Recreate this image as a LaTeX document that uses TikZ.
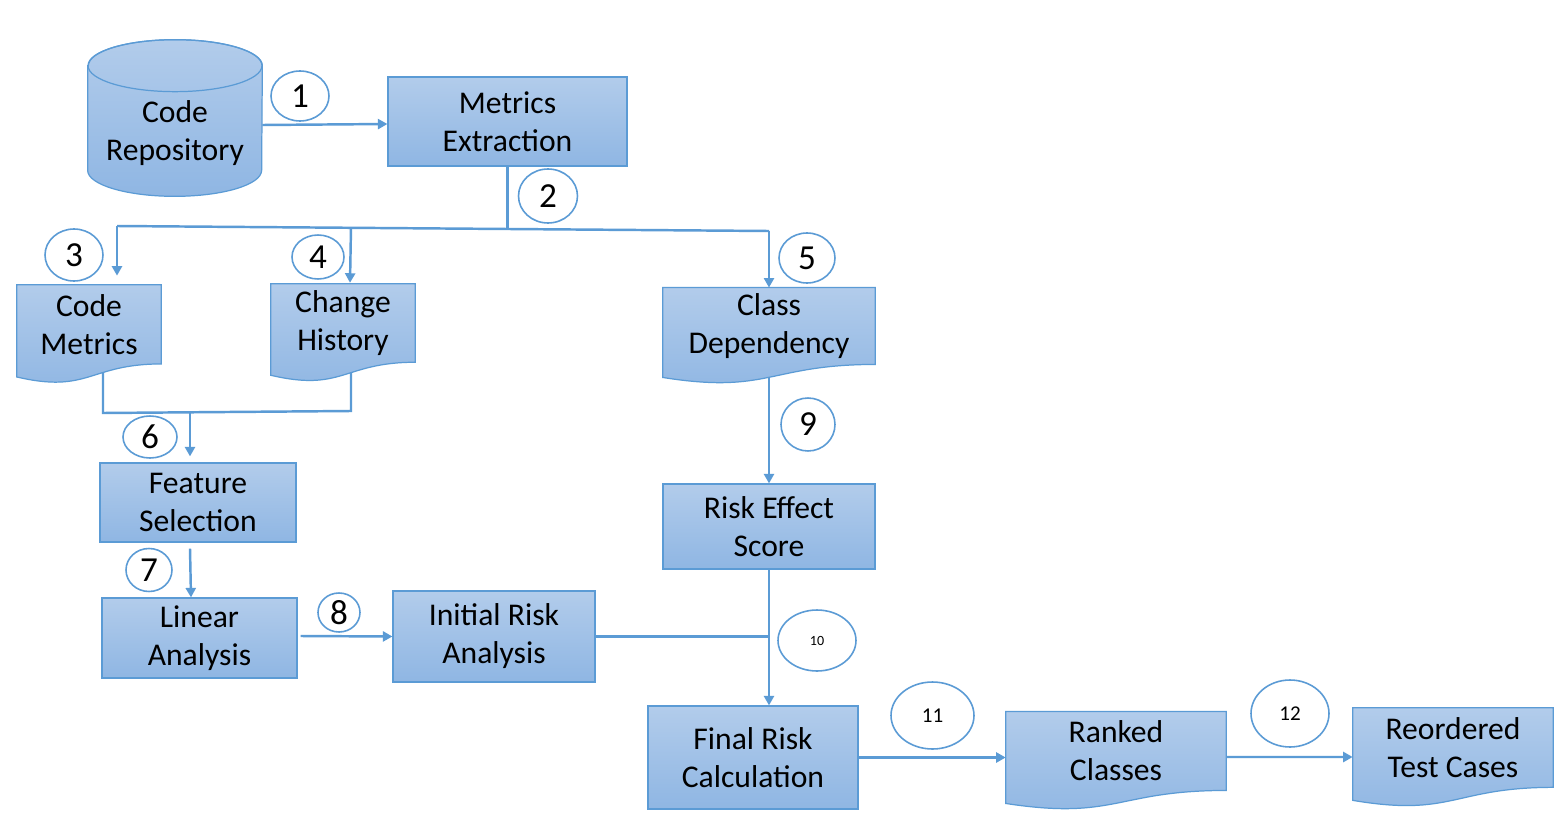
\documentclass[tikz,border=0pt]{standalone}
\usepackage{fontspec}
\setmainfont{Carlito}
\usetikzlibrary{arrows.meta,calc,shapes.geometric}
\pgfdeclarelayer{conn}
\pgfdeclarelayer{shapes}
\pgfsetlayers{conn,shapes,main}
\definecolor{bordc}{RGB}{91,155,213}
\definecolor{linec}{RGB}{91,155,213}
\definecolor{topc}{RGB}{178,204,235}
\definecolor{botc}{RGB}{143,182,227}
\newcommand\docshape[1]{\path[shp] (#1.north west) -- (#1.north east) -- (#1.south east) .. controls (#1.south) and ($(#1.south)+(0,30)$) .. ($(#1.south west)+(0,13)$) -- cycle;}
\begin{document}
\begin{tikzpicture}[x=0.02cm,y=-0.02cm,
  txt/.style={draw=none, inner sep=0pt, align=center, text=black, font=\fontsize{18}{21.6}\selectfont},
  rbox/.style={txt, rectangle, draw=bordc, line width=0.7pt, top color=topc, bottom color=botc},
  shp/.style={draw=bordc, line width=0.7pt, top color=topc, bottom color=botc},
  num/.style={ellipse, draw=bordc, fill=white, line width=0.9pt, inner sep=0pt, text=black, font=\fontsize{20}{24}\selectfont},
  cline/.style={draw=linec, line width=1.4pt},
  arr/.style={cline, -{Triangle[length=0.19cm,width=0.2cm]}}]
\useasboundingbox (0,0) rectangle (1565,821);
% nodes
\node[txt, minimum width=3.48cm, minimum height=2.6cm] (repo) at (175,133) {Code\\Repository};
\node[rbox, minimum width=4.78cm, minimum height=1.78cm] (mx) at (507.5,121.5) {Metrics\\Extraction};
\node[txt, minimum width=2.88cm, minimum height=1.572cm] (cm) at (89,324.3) {Code\\Metrics};
\node[txt, minimum width=2.88cm, minimum height=1.556cm] (ch) at (343,323) {Change\\History};
\node[txt, minimum width=4.24cm, minimum height=1.524cm] (cd) at (769,326) {Class\\Dependency};
\node[rbox, minimum width=3.92cm, minimum height=1.58cm] (fs) at (198,502.5) {Feature\\Selection};
\node[rbox, minimum width=3.90cm, minimum height=1.60cm] (la) at (199.5,638) {Linear\\Analysis};
\node[rbox, minimum width=4.04cm, minimum height=1.82cm] (ira) at (494,636.5) {Initial Risk\\Analysis};
\node[rbox, minimum width=4.24cm, minimum height=1.70cm] (res) at (769,526.5) {Risk Effect\\Score};
\node[rbox, minimum width=4.20cm, minimum height=2.06cm] (frc) at (753,757.5) {Final Risk\\Calculation};
\node[txt, minimum width=4.40cm, minimum height=1.564cm] (rc) at (1116,751) {Ranked\\Classes};
\node[txt, minimum width=4.00cm, minimum height=1.58cm] (rtc) at (1453,747.5) {Reordered\\Test Cases};
% number labels
\node[num, minimum width=1.16cm, minimum height=1.00cm] (n1) at (300,96) {1};
\node[num, minimum width=1.18cm, minimum height=1.08cm] (n2) at (548,196) {2};
\node[num, minimum width=1.16cm, minimum height=1.04cm] (n3) at (74,255) {3};
\node[num, minimum width=1.04cm, minimum height=0.88cm] (n4) at (318,257) {4};
\node[num, minimum width=1.12cm, minimum height=1.00cm] (n5) at (807,258) {5};
\node[num, minimum width=1.08cm, minimum height=0.84cm] (n6) at (150,437) {6};
\node[num, minimum width=0.92cm, minimum height=0.86cm] (n7) at (149,570) {7};
\node[num, minimum width=0.84cm, minimum height=0.78cm] (n8) at (339,612.5) {8};
\node[num, minimum width=1.08cm, minimum height=1.06cm] (n9) at (808,424.5) {9};
\node[num, minimum width=1.56cm, minimum height=1.22cm, font=\fontsize{8}{9}\selectfont] (n10) at (817,640.5) {10};
\node[num, minimum width=1.66cm, minimum height=1.34cm, font=\fontsize{12}{14}\selectfont] (n11) at (932.5,715.5) {11};
\node[num, minimum width=1.56cm, minimum height=1.34cm, font=\fontsize{12}{14}\selectfont] (n12) at (1290,713.5) {12};
% shapes
\begin{pgfonlayer}{shapes}
\path[shp] ($(repo.north west)+(0,-2)$) -- ($(repo.south west)+(0,-28)$) arc[start angle=180,end angle=360,x radius=1.74cm,y radius=0.52cm] -- ($(repo.north east)+(0,-2)$) arc[start angle=0,end angle=180,x radius=1.74cm,y radius=0.52cm] -- cycle;
\draw[draw=bordc, line width=0.7pt] ($(repo.north)+(0,-2)$) ellipse [x radius=1.74cm, y radius=0.52cm];
\docshape{cm}
\docshape{ch}
\docshape{cd}
\docshape{rc}
\docshape{rtc}
\end{pgfonlayer}
% connectors
\begin{pgfonlayer}{conn}
\fill[white] (0,0) rectangle (1565,821);
\coordinate (jl) at (117,226);
\coordinate (jr) at (769,231);
\coordinate (j2) at (507.5,229);
\coordinate (j4) at (351,227.3);
\coordinate (b1) at (103,413);
\coordinate (b2) at (351,411);
\coordinate (j6) at (190,412);
\draw[arr] ($(repo.east)+(0,-8)$) -- ($(mx.west)+(0,2.5)$);
\draw[cline] (mx.south) -- (j2);
\draw[cline] (jr) -- (jl);
\draw[arr] (jl) -- ($(jl |- cm.north)+(0,-9)$);
\draw[arr] (j4) -- ($(ch.north)+(7,-1)$);
\draw[arr] (jr) -- (cd.north);
\draw[cline] (cm.south -| b1) -- (b1) -- (b2) -- (ch.south -| b2);
\draw[arr] (j6) -- ($(fs.north)+(-8,-6)$);
\draw[arr] ($(fs.south)+(-8,6)$) -- ($(la.north)+(-8.5,0)$);
\draw[arr] ($(la.east)+(3,-2)$) -- (ira.west);
\draw[cline] (ira.east) -- (ira.east -| res.south);
\draw[arr] (cd.south) -- (res.north);
\draw[arr] (res.south) -- (res.south |- frc.north);
\draw[arr] (frc.east) -- (frc.east -| rc.west);
\draw[arr] ($(rc.east)+(0,6)$) -- ($(rtc.west)+(0,9.5)$);
\end{pgfonlayer}
\end{tikzpicture}
\end{document}
